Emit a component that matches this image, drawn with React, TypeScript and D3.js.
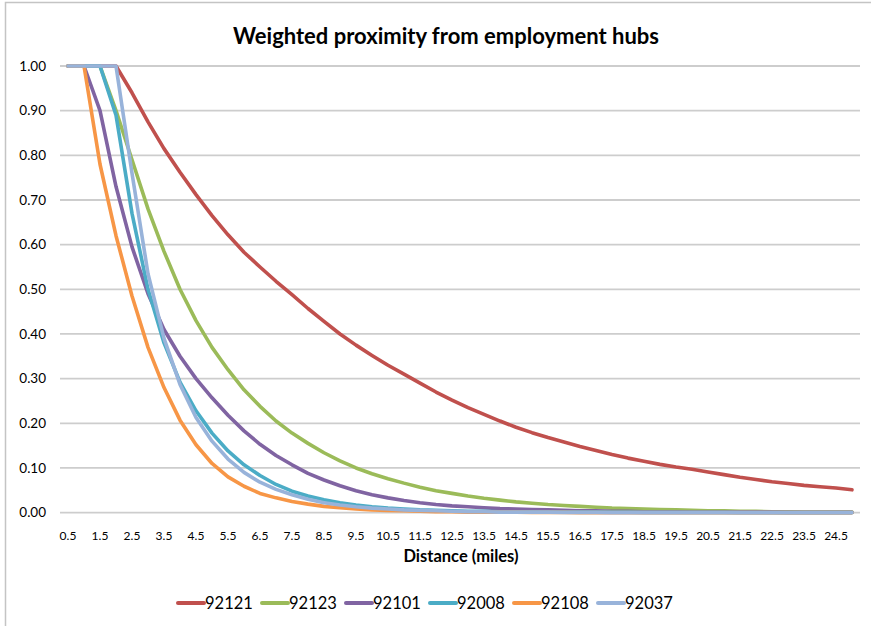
import React from "react";
import * as d3 from "d3";

const distances: number[] = Array.from({ length: 50 }, (_, i) => 0.5 + 0.5 * i);

const s92121: number[] = [
  1, 1, 1, 1, 0.94, 0.875, 0.815, 0.762, 0.712, 0.665,
  0.622, 0.583, 0.55, 0.518, 0.488, 0.457, 0.428, 0.4, 0.375, 0.352,
  0.33, 0.31, 0.29, 0.27, 0.252, 0.235, 0.22, 0.205, 0.191, 0.179,
  0.168, 0.158, 0.148, 0.139, 0.13, 0.122, 0.115, 0.108, 0.102, 0.097,
  0.091, 0.085, 0.079, 0.074, 0.069, 0.065, 0.061, 0.058, 0.055, 0.051,
];
const s92123: number[] = [
  1, 1, 1, 0.9, 0.79, 0.68, 0.585, 0.5, 0.43, 0.37,
  0.32, 0.275, 0.238, 0.205, 0.178, 0.155, 0.134, 0.116, 0.1, 0.087,
  0.076, 0.066, 0.057, 0.049, 0.043, 0.037, 0.032, 0.028, 0.024, 0.021,
  0.018, 0.016, 0.014, 0.012, 0.01, 0.009, 0.008, 0.007, 0.006, 0.005,
  0.004, 0.004, 0.003, 0.003, 0.002, 0.002, 0.001, 0.001, 0.001, 0.001,
];
const s92101: number[] = [
  1, 1, 0.9, 0.73, 0.595, 0.49, 0.41, 0.35, 0.3, 0.257,
  0.218, 0.183, 0.153, 0.128, 0.107, 0.088, 0.073, 0.06, 0.049, 0.04,
  0.033, 0.027, 0.022, 0.018, 0.015, 0.013, 0.011, 0.009, 0.008, 0.007,
  0.006, 0.005, 0.004, 0.004, 0.003, 0.003, 0.002, 0.002, 0.002, 0.001,
  0.001, 0.001, 0.001, 0.001, 0.001, 0.0005, 0.0005, 0.0005, 0.0005, 0.0005,
];
const s92008: number[] = [
  1, 1, 1, 0.89, 0.67, 0.5, 0.38, 0.292, 0.228, 0.178,
  0.138, 0.107, 0.083, 0.063, 0.048, 0.037, 0.029, 0.022, 0.017, 0.013,
  0.01, 0.008, 0.006, 0.005, 0.004, 0.003, 0.003, 0.002, 0.002, 0.002,
  0.001, 0.001, 0.001, 0.001, 0.001, 0.001, 0.0005, 0.0005, 0.0005, 0.0005,
  0.0005, 0.0005, 0, 0, 0, 0, 0, 0, 0, 0,
];
const s92108: number[] = [
  1, 1, 0.78, 0.62, 0.485, 0.37, 0.28, 0.207, 0.152, 0.11,
  0.08, 0.059, 0.043, 0.033, 0.025, 0.019, 0.014, 0.011, 0.008, 0.006,
  0.005, 0.004, 0.003, 0.002, 0.002, 0.001, 0.001, 0.001, 0.001, 0.0005,
  0.0005, 0.0005, 0, 0, 0, 0, 0, 0, 0, 0,
  0, 0, 0, 0, 0, 0, 0, 0, 0, 0,
];
const s92037: number[] = [
  1, 1, 1, 1, 0.76, 0.535, 0.39, 0.287, 0.213, 0.16,
  0.12, 0.09, 0.068, 0.052, 0.04, 0.03, 0.022, 0.017, 0.013, 0.01,
  0.008, 0.006, 0.005, 0.004, 0.003, 0.002, 0.002, 0.001, 0.001, 0.001,
  0.001, 0.0005, 0.0005, 0.0005, 0, 0, 0, 0, 0, 0,
  0, 0, 0, 0, 0, 0, 0, 0, 0, 0,
];

const seriesNames: string[] = ["92121", "92123", "92101", "92008", "92108", "92037"];
const seriesValues: number[][] = [s92121, s92123, s92101, s92008, s92108, s92037];
const seriesColors: string[] = ["#C0504D", "#9BBB59", "#8064A2", "#4BACC6", "#F79646", "#98B3DA"];
const yTicks: number[] = [0, 0.1, 0.2, 0.3, 0.4, 0.5, 0.6, 0.7, 0.8, 0.9, 1.0];

const W = 871;
const H = 626;
const plotL = 60;
const plotR = 860;
const plotT = 66;
const plotB = 512.6;
const FONT = "Lato, 'Open Sans', sans-serif";

export default function App() {
  const x = d3
    .scaleBand<string>()
    .domain(distances.map(String))
    .range([plotL, plotR])
    .padding(0);
  const cx = (d: number) => (x(String(d)) as number) + x.bandwidth() / 2;
  const y = d3.scaleLinear().domain([0, 1]).range([plotB, plotT]);
  const line = d3
    .line<number>()
    .x((_, i) => cx(distances[i]))
    .y((v) => y(v))
    .curve(d3.curveLinear);

  const fmt = d3.format(".2f");
  const xLabels = distances.filter((_, i) => i % 2 === 0);

  const legendStart = 178;
  const legendStep = 84;

  return (
    <svg
      width={W}
      height={H}
      style={{ position: "absolute", left: 0, top: 0, background: "#fff" }}
      fontFamily={FONT}
    >
      <rect x={5.5} y={2.5} width={880} height={640} fill="#fff" stroke="#c4c4c4" strokeWidth={1.5} />
      <text x={446} y={44} textAnchor="middle" fontSize={22} fontWeight={700} fill="#000">
        Weighted proximity from employment hubs
      </text>
      {yTicks.map((t) => (
        <g key={t}>
          <line x1={plotL} x2={plotR} y1={y(t)} y2={y(t)} stroke="#cdcdcd" strokeWidth={1.8} />
          <text x={46} y={y(t)} dy="0.35em" textAnchor="end" fontSize={13.5} fill="#000">
            {fmt(t)}
          </text>
        </g>
      ))}
      {xLabels.map((d) => (
        <text key={d} x={cx(d)} y={536} dy="0.35em" textAnchor="middle" fontSize={12} fill="#000">
          {String(d)}
        </text>
      ))}
      <text x={461} y={556} dy="0.35em" textAnchor="middle" fontSize={16.5} fontWeight={700} fill="#000">
        Distance (miles)
      </text>
      {seriesValues.map((vals, k) => (
        <path
          key={seriesNames[k]}
          d={line(vals) || ""}
          fill="none"
          stroke={seriesColors[k]}
          strokeWidth={3.6}
          strokeLinejoin="round"
          strokeLinecap="round"
        />
      ))}
      {seriesNames.map((n, k) => (
        <g key={n} transform={`translate(${legendStart + k * legendStep},603)`}>
          <line x1={0} x2={26} y1={0} y2={0} stroke={seriesColors[k]} strokeWidth={4} strokeLinecap="round" />
          <text x={27} y={0} dy="0.35em" fontSize={16.5} fill="#000">
            {n}
          </text>
        </g>
      ))}
    </svg>
  );
}
